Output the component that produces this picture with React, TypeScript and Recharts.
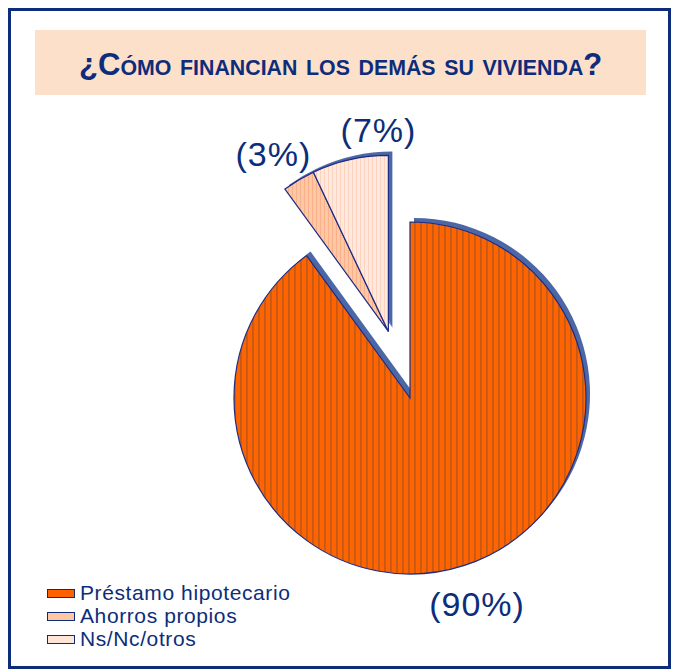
import { Cell, Legend, Pie, PieChart } from 'recharts'

const categories = ['Préstamo hipotecario', 'Ahorros propios', 'Ns/Nc/otros']
const shares = [90, 3, 7]
const shareLabels = ['(90%)', '(3%)', '(7%)']

const data = categories.map((name, i) => ({ name, value: shares[i], label: shareLabels[i] }))

const NAVY = '#0d2d7a'
const SHADOW = '#4c67a6'
const fills = ['url(#stripeOrange)', 'url(#stripePeach)', 'url(#stripeCream)']
const swatches = ['#ff6000', '#ffc6a2', '#ffe4d8']

// main slice sits in place, the two small ones are pulled out
const CX = 410
const CY = 398
const R = 176
const EXPLODE = 70
const EXPLODE_ANGLE = 108
const ex = CX + EXPLODE * Math.cos((EXPLODE_ANGLE * Math.PI) / 180)
const ey = CY - EXPLODE * Math.sin((EXPLODE_ANGLE * Math.PI) / 180)

// per-label nudges: [extra radius, angle shift]
const labelNudge: Record<string, [number, number]> = {
    '(90%)': [41, 0],
    '(3%)': [35, 2.4],
    '(7%)': [26, -9.8],
}

const makeLabel = (show: number[]) => (props: any) => {
    const { cx, cy, midAngle, outerRadius, index } = props
    if (!show.includes(index)) return null
    const text = data[index].label
    const [dr, da] = labelNudge[text]
    const a = ((midAngle + da) * Math.PI) / 180
    const r = outerRadius + dr
    const x = cx + r * Math.cos(a)
    const y = cy - r * Math.sin(a)
    return (
        <text
            key={text}
            x={x}
            y={y + 12}
            textAnchor="middle"
            fill={NAVY}
            fontFamily="'Liberation Sans', Arial, sans-serif"
            fontSize={34}
            letterSpacing={1}
        >
            {text}
        </text>
    )
}

const renderLegend = () => (
    <div style={{ fontFamily: "'Liberation Sans', Arial, sans-serif" }}>
        {data.map((d, i) => (
            <div key={d.name} style={{ display: 'flex', alignItems: 'center', height: 23 }}>
                <span
                    style={{
                        width: 26,
                        height: 7,
                        background: swatches[i],
                        border: `1px solid ${NAVY}`,
                        marginRight: 5,
                        marginTop: 2,
                    }}
                />
                <span style={{ color: NAVY, fontSize: 21, letterSpacing: 0.6 }}>{d.name}</span>
            </div>
        ))}
    </div>
)

const App = () => {
    return (
        <div style={{ position: 'absolute', left: 0, top: 0, width: 679, height: 671, background: '#fff' }}>
            <div
                style={{
                    position: 'absolute',
                    left: 8,
                    top: 8,
                    width: 657,
                    height: 655,
                    border: `3px solid ${NAVY}`,
                }}
            />
            <div
                style={{
                    position: 'absolute',
                    left: 35,
                    top: 30,
                    width: 611,
                    height: 65,
                    background: '#fde0ca',
                    display: 'flex',
                    alignItems: 'center',
                    justifyContent: 'center',
                }}
            >
                <span
                    style={{
                        color: NAVY,
                        fontFamily: "'Liberation Sans', Arial, sans-serif",
                        fontWeight: 'bold',
                        fontSize: 32,
                        fontVariant: 'small-caps',
                        whiteSpace: 'nowrap',
                        display: 'inline-block',
                        transform: 'scaleX(0.97)',
                        marginTop: 3,
                    }}
                >
                    ¿Cómo financian los demás su vivienda?
                </span>
            </div>
            <PieChart
                width={679}
                height={671}
                margin={{ top: 0, right: 0, bottom: 0, left: 0 }}
                style={{ position: 'absolute', left: 0, top: 0 }}
            >
                <defs>
                    <pattern id="stripeOrange" width="6" height="6" patternUnits="userSpaceOnUse">
                        <rect width="6" height="6" fill="#ff6400" />
                        <rect x="0" width="1.8" height="6" fill="#c45a16" />
                    </pattern>
                    <pattern id="stripePeach" width="4" height="4" patternUnits="userSpaceOnUse">
                        <rect width="4" height="4" fill="#ffc8a4" />
                        <rect x="0" width="1" height="4" fill="#f7b08a" />
                    </pattern>
                    <pattern id="stripeCream" width="4" height="4" patternUnits="userSpaceOnUse">
                        <rect width="4" height="4" fill="#ffe9dd" />
                        <rect x="0" width="1" height="4" fill="#fbd3c0" />
                    </pattern>
                </defs>
                {/* shadow of main slice */}
                <Pie
                    data={data}
                    dataKey="value"
                    cx={CX + 4}
                    cy={CY - 4}
                    outerRadius={R}
                    startAngle={90}
                    endAngle={-270}
                    stroke="none"
                    legendType="none"
                    isAnimationActive={false}
                >
                    {data.map((d, i) => (
                        <Cell key={d.name} fill={i === 0 ? SHADOW : 'none'} />
                    ))}
                </Pie>
                <Pie
                    data={data}
                    dataKey="value"
                    cx={CX}
                    cy={CY}
                    outerRadius={R}
                    startAngle={90}
                    endAngle={-270}
                    label={makeLabel([0])}
                    labelLine={false}
                    legendType="none"
                    isAnimationActive={false}
                >
                    {data.map((d, i) => (
                        <Cell
                            key={d.name}
                            fill={i === 0 ? fills[0] : 'none'}
                            stroke={i === 0 ? '#1b2c86' : 'none'}
                            strokeWidth={1.2}
                        />
                    ))}
                </Pie>
                {/* shadow of pulled-out slices */}
                <Pie
                    data={data}
                    dataKey="value"
                    cx={ex + 4}
                    cy={ey - 4}
                    outerRadius={R}
                    startAngle={90}
                    endAngle={-270}
                    stroke="none"
                    legendType="none"
                    isAnimationActive={false}
                >
                    {data.map((d, i) => (
                        <Cell key={d.name} fill={i === 0 ? 'none' : SHADOW} />
                    ))}
                </Pie>
                <Pie
                    data={data}
                    dataKey="value"
                    cx={ex}
                    cy={ey}
                    outerRadius={R}
                    startAngle={90}
                    endAngle={-270}
                    label={makeLabel([1, 2])}
                    labelLine={false}
                    legendType="none"
                    isAnimationActive={false}
                >
                    {data.map((d, i) => (
                        <Cell
                            key={d.name}
                            fill={i === 0 ? 'none' : fills[i]}
                            stroke={i === 0 ? 'none' : '#1b2c86'}
                            strokeWidth={1.2}
                        />
                    ))}
                </Pie>
                <Legend
                    content={renderLegend}
                    wrapperStyle={{ position: 'absolute', left: 47, top: 581, width: 320 }}
                />
            </PieChart>
        </div>
    )
}

export default App
